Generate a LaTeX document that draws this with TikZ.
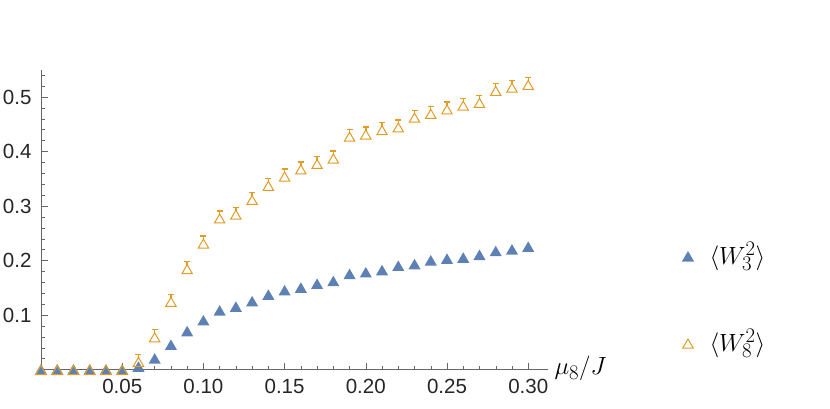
\documentclass[tikz,border=0pt]{standalone}
\usepackage{fontspec}
\setsansfont{Liberation Sans}
\begin{document}
\begin{tikzpicture}[x=1pt,y=-1pt,
  tri/.style={regular polygon,regular polygon sides=3,inner sep=0pt,minimum size=14pt},
  ticklab/.style={font=\sffamily\fontsize{20.5}{24}\selectfont,text=black!85}]
\usetikzlibrary{shapes.geometric}
\definecolor{mblue}{rgb}{0.368,0.507,0.71}
\definecolor{morange}{rgb}{0.881,0.611,0.142}
\useasboundingbox (0,0) rectangle (830,409);
% axes
\draw[black!60,line width=0.8pt] (41,369.5) coordinate (o) -- (548,369.5) coordinate (xe);
\draw[black!60,line width=0.8pt] (o) -- (41,70) coordinate (ye);
\foreach \i in {1,...,30}{
  \pgfmathsetmacro{\X}{41+\i*16.24}
  \pgfmathtruncatemacro{\m}{mod(\i,5)}
  \ifnum\m=0 \draw[black!60] (\X,369.5) -- ++(0,-7); \else \draw[black!60] (\X,369.5) -- ++(0,-4); \fi}
\foreach \i in {1,...,27}{
  \pgfmathsetmacro{\Y}{369.5-\i*10.9}
  \pgfmathtruncatemacro{\m}{mod(\i,5)}
  \ifnum\m=0 \draw[black!60] (41,\Y) -- ++(7,0); \else \draw[black!60] (41,\Y) -- ++(4,0); \fi}
\foreach \v/\l in {0.05/0.05,0.10/0.10,0.15/0.15,0.20/0.20,0.25/0.25,0.30/0.30}
  \node[ticklab,anchor=north] (xt\l) at ({41+\v*1624},376) {\l};
\foreach \v/\l in {0.1/0.1,0.2/0.2,0.3/0.3,0.4/0.4,0.5/0.5}
  \node[ticklab,anchor=east] (yt\l) at (35,{369.5-\v*545}) {\l};
\node[anchor=west,font=\fontsize{29}{32}\selectfont] (xl) at (551,368) {$\mu_8/J$};
% data
\foreach \y [count=\i from 0] in {0,0,0,0,0,0,0.005,0.02,0.045,0.07,0.09,0.108,0.115,0.125,0.137,0.145,0.15,0.157,0.162,0.175,0.178,0.182,0.19,0.193,0.2,0.203,0.205,0.21,0.217,0.22,0.225}{
  \node[tri,fill=mblue] (b\i) at ({41+\i*16.24},{369.5-\y*545+1.5}) {};}
\foreach \y [count=\i from 0] in {0,0,0,0,0,0,0.015,0.06,0.125,0.185,0.232,0.278,0.285,0.312,0.338,0.355,0.368,0.378,0.388,0.428,0.432,0.44,0.445,0.463,0.47,0.478,0.485,0.49,0.512,0.518,0.523}{
  \node[tri,draw=morange,line width=1pt,minimum size=12pt] (r\i) at ({41+\i*16.24},{369.5-\y*545+2}) {};
  \ifnum\i>5
  \draw[morange,line width=1.4pt] ({41+\i*16.24},{369.5-\y*545-3}) -- ({41+\i*16.24},{369.5-\y*545-7});
  \draw[morange,line width=1.2pt] ({41+\i*16.24-3},{369.5-\y*545-7}) -- ({41+\i*16.24+3},{369.5-\y*545-7});
  \fi}
% legend
\node[tri,fill=mblue] (lb) at (688,258) {};
\node[anchor=west,font=\fontsize{31}{34}\selectfont] (lbt) at (706,256) {$\langle W_3^2\rangle$};
\node[tri,draw=morange,line width=1pt,minimum size=12pt] (lo) at (688,345) {};
\node[anchor=west,font=\fontsize{31}{34}\selectfont] (lot) at (706,343) {$\langle W_8^2\rangle$};
\end{tikzpicture}
\end{document}
